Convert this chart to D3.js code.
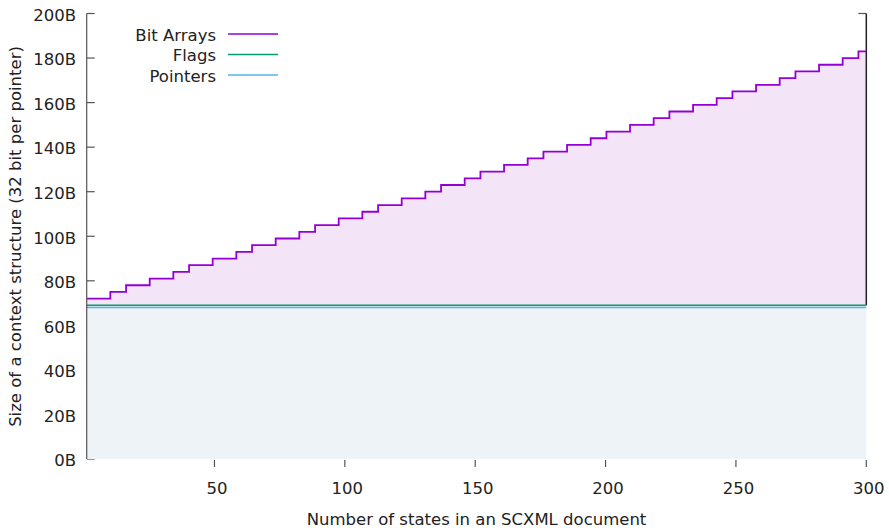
<!DOCTYPE html>
<html>
<head>
<meta charset="utf-8">
<script src="https://cdn.jsdelivr.net/npm/d3@7"></script>
<style>
  html, body { margin: 0; padding: 0; background: #fff; }
  svg { display: block; }
  text { font-family: "DejaVu Sans", Verdana, sans-serif; fill: #222; }
</style>
</head>
<body>
<div id="chart"></div>
<script>
// ---- data ----
// number of states where the Bit Arrays size steps up, and the size (bytes) from that point on
const bitArrayStates = [1, 10.06, 16.10, 25.16, 34.22, 40.26, 49.32, 58.38, 64.42, 73.48, 82.55,
  88.59, 97.65, 106.71, 112.75, 121.81, 130.87, 136.91, 145.97, 152.01, 161.07, 170.13,
  176.17, 185.23, 194.29, 200.33, 209.39, 218.45, 224.49, 233.56, 242.62, 248.66, 257.72,
  266.78, 272.82, 281.88, 290.94, 296.98, 300];
const bitArrayBytes = [72, 75, 78, 81, 84, 87, 90, 93, 96, 99, 102,
  105, 108, 111, 114, 117, 120, 123, 126, 129, 132, 135,
  138, 141, 144, 147, 150, 153, 156, 159, 162, 165, 168,
  171, 174, 177, 180, 183, 183];
const baseStates = [1, 300];
const flagsBytes = [69, 69];     // cumulative top of Flags
const pointerBytes = [68, 68];   // cumulative top of Pointers

const yTicks = [0, 20, 40, 60, 80, 100, 120, 140, 160, 180, 200];
const xTicks = [50, 100, 150, 200, 250, 300];
const seriesNames = ["Bit Arrays", "Flags", "Pointers"];
const seriesColors = ["#9400d3", "#009e73", "#56b4e9"];

// ---- layout ----
const W = 889, H = 528;
const svg = d3.select("#chart").append("svg").attr("width", W).attr("height", H);

const x = d3.scaleLinear().domain([1, 300]).range([86.7, 866.3]);
const y = d3.scaleLinear().domain([0, 200]).range([459, 13.5]);

const bitData = bitArrayStates.map((s, i) => ({ s, v: bitArrayBytes[i], base: 69 }));
const flagData = baseStates.map((s, i) => ({ s, v: flagsBytes[i], base: pointerBytes[i] }));
const ptrData = baseStates.map((s, i) => ({ s, v: pointerBytes[i], base: 0 }));

// left ticks (drawn behind fills)
svg.append("g").selectAll("line").data(yTicks).join("line")
  .attr("x1", x(1)).attr("x2", x(1) + 8)
  .attr("y1", d => y(d)).attr("y2", d => y(d))
  .attr("stroke", "#555").attr("stroke-width", 1.2);
// top-right tick
svg.append("line").attr("x1", x(300) - 8).attr("x2", x(300))
  .attr("y1", y(200)).attr("y2", y(200)).attr("stroke", "#555").attr("stroke-width", 1.2);

// fills
const areaGen = d3.area().curve(d3.curveStepAfter)
  .x(d => x(d.s)).y0(d => y(d.base)).y1(d => y(d.v));
svg.append("path").datum(ptrData).attr("d", areaGen).attr("fill", "#eef3f8");
svg.append("path").datum(flagData).attr("d", areaGen).attr("fill", "#e6f3ef");
svg.append("path").datum(bitData).attr("d", areaGen).attr("fill", "#f4e4f7");

// right dark edge at x=300
svg.append("line").attr("x1", x(300)).attr("x2", x(300))
  .attr("y1", y(200)).attr("y2", y(69)).attr("stroke", "#222").attr("stroke-width", 1.5);

// lines
const lineGen = d3.line().curve(d3.curveStepAfter).x(d => x(d.s)).y(d => y(d.v));
svg.append("path").datum(ptrData).attr("d", lineGen)
  .attr("fill", "none").attr("stroke", seriesColors[2]).attr("stroke-width", 1.5);
svg.append("path").datum(flagData).attr("d", lineGen)
  .attr("fill", "none").attr("stroke", seriesColors[1]).attr("stroke-width", 1.5);
svg.append("path").datum(bitData).attr("d", lineGen)
  .attr("fill", "none").attr("stroke", seriesColors[0]).attr("stroke-width", 1.8);

// left axis line
svg.append("line").attr("x1", x(1)).attr("x2", x(1))
  .attr("y1", y(200)).attr("y2", y(0)).attr("stroke", "#555").attr("stroke-width", 1.2);

// y tick labels
const fs = 16.5;
svg.append("g").selectAll("text").data(yTicks).join("text")
  .attr("x", 76).attr("y", d => y(d)).attr("dy", "0.44em")
  .attr("text-anchor", "end").style("font-size", fs + "px")
  .text(d => d + "B");

// x ticks (outward, no baseline)
svg.append("g").selectAll("line").data(xTicks).join("line")
  .attr("x1", d => x(d)).attr("x2", d => x(d))
  .attr("y1", y(0) + 1).attr("y2", y(0) + 8)
  .attr("stroke", "#555").attr("stroke-width", 1.2);
svg.append("g").selectAll("text").data(xTicks).join("text")
  .attr("x", d => x(d) + 2.5).attr("y", 488).attr("dy", "0.38em")
  .attr("text-anchor", "middle").style("font-size", fs + "px")
  .text(d => d);

// axis titles
svg.append("text").attr("x", 476.5).attr("y", 519).attr("dy", "0.38em")
  .attr("text-anchor", "middle").style("font-size", fs + "px")
  .text("Number of states in an SCXML document");
svg.append("text").attr("transform", "translate(15,236.5) rotate(-90)")
  .attr("dy", "0.36em").attr("text-anchor", "middle").style("font-size", fs + "px")
  .text("Size of a context structure (32 bit per pointer)");

// legend
const leg = svg.append("g");
seriesNames.forEach((name, i) => {
  const ly = 34 + i * 20.5;
  leg.append("text").attr("x", 216).attr("y", ly).attr("dy", "0.42em")
    .attr("text-anchor", "end").style("font-size", fs + "px").text(name);
  leg.append("line").attr("x1", 228).attr("x2", 278).attr("y1", ly).attr("y2", ly)
    .attr("stroke", seriesColors[i]).attr("stroke-width", 1.5);
});
</script>
</body>
</html>
